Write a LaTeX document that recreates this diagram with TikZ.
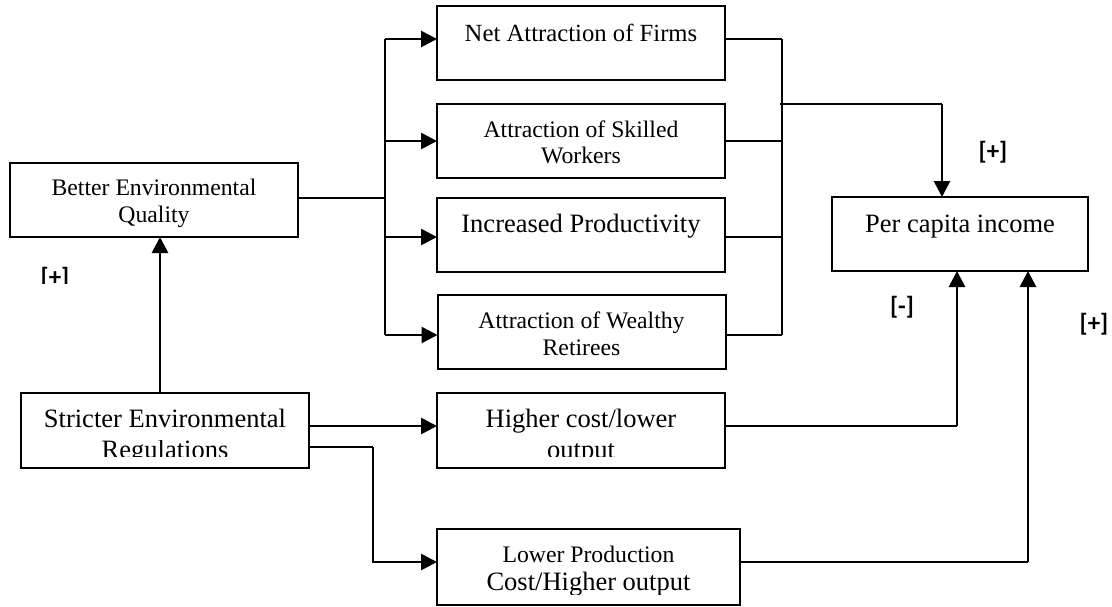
\documentclass[tikz,border=0pt]{standalone}
\usepackage{fontspec}
\setmainfont{Liberation Serif}
\newfontfamily\lblfont{Carlito}
\usetikzlibrary{arrows.meta}
\newcommand\fntS{\fontsize{23.7}{27}\selectfont}
\newcommand\fntN{\fontsize{24.7}{28}\selectfont}
\newcommand\fntL{\fontsize{26.5}{30}\selectfont}
\tikzset{
  box/.style={draw, line width=2pt, inner sep=0pt, outer sep=0pt,
              minimum width=288pt, minimum height=74pt},
  txt/.style={inner sep=0pt, anchor=base},
  lbl/.style={inner sep=0pt, font=\lblfont\bfseries\fontsize{25}{27}\selectfont},
  thinl/.style={line width=1.7pt},
  thickl/.style={line width=2.6pt},
  arr/.style={line width=2.8pt, -{Triangle[length=16pt,width=16pt]}},
}
\begin{document}
\begin{tikzpicture}[x=1pt,y=-1pt]
\useasboundingbox (0,0) rectangle (1112,606);

% boxes
\node[box] (bet) at (154,200) {};
\node[box] (net) at (581,43) {};
\node[box] (skl) at (581,141) {};
\node[box] (inc) at (581,235) {};
\node[box] (wlt) at (581.5,332) {};
\node[box, minimum height=75pt] (str) at (165,430.5) {};
\node[box, minimum height=75pt] (hic) at (581,430.5) {};
\node[box, minimum width=303pt, minimum height=76pt] (low) at (588.5,567) {};
\node[box, minimum width=256pt] (pci) at (960,234) {};

% box texts
\node[txt, font=\fntS] (betA) at (154,195) {Better Environmental};
\node[txt, font=\fntS] (betB) at (154,222) {Quality};
\node[txt, font=\fntN] (netA) at (581,41) {Net Attraction of Firms};
\node[txt, font=\fntS] (sklA) at (581,137) {Attraction of Skilled};
\node[txt, font=\fntS] (sklB) at (581,163) {Workers};
\node[txt, font=\fntL] (incA) at (581,232) {Increased Productivity};
\node[txt, font=\fntS] (wltA) at (581.5,328) {Attraction of Wealthy};
\node[txt, font=\fntS] (wltB) at (581.5,355) {Retirees};
\node[txt, font=\fntL] (pciA) at (960,232) {Per capita income};
\node[txt, font=\fntL] (strA) at (165,427) {Stricter Environmental};
\node[txt, font=\fntL] (hicA) at (581,427) {Higher cost/lower};
\node[txt, font=\fntS] (lowA) at (588.5,562) {Lower Production};
\begin{scope}
  \clip (22,440) rectangle (308,456.5);
  \node[txt, font=\fntL] (strB) at (165,458) {Regulations};
\end{scope}
\begin{scope}
  \clip (438,440) rectangle (724,456.5);
  \node[txt, font=\fntL] (hicB) at (581,458) {output};
\end{scope}
\begin{scope}
  \clip (438,570) rectangle (739,594);
  \node[txt, font=\fntL] (lowB) at (588.5,590) {Cost/Higher output};
\end{scope}

% sign labels
\begin{scope}
  \clip (30,255) rectangle (80,283);
  \node[lbl] (sgnA) at (55,278.5) {[+]};
\end{scope}
\node[lbl] (sgnB) at (993,152) {[+]};
\node[lbl] (sgnC) at (902,307) {[-]};
\node[lbl] (sgnD) at (1094,324) {[+]};

% left distribution bus
\coordinate (busT) at (385,39);
\coordinate (busS) at (385,141);
\coordinate (busI) at (385,237);
\coordinate (busB) at (385,335);
\coordinate (busJ) at (385,198);
\draw[thinl] (bet.east |- busJ) -- (busJ);
\draw[thickl] (busT) -- (busB);
\draw[arr] (busT) -- (busT -| net.west);
\draw[arr] (busS) -- (busS -| skl.west);
\draw[arr] (busI) -- (busI -| inc.west);
\draw[arr] (busB) -- (busB -| wlt.west);

% right collecting bus
\coordinate (rT) at (782,39);
\coordinate (rS) at (782,141);
\coordinate (rI) at (782,237);
\coordinate (rB) at (782,335);
\coordinate (rJ) at (780,104);
\coordinate (pJ) at (942,104);
\draw[thinl] (rT) -- (rB);
\draw[thinl] (net.east |- rT) -- (rT);
\draw[thinl] (skl.east |- rS) -- (rS);
\draw[thinl] (inc.east |- rI) -- (rI);
\draw[thinl] (wlt.east |- rB) -- (rB);
\draw[thinl] (rJ) -- (pJ);
\draw[arr] (pJ) -- (pJ |- pci.north);

% regulations to environmental quality
\coordinate (upX) at (160,0);
\draw[arr] (str.north -| upX) -- (bet.south -| upX);

% regulations to cost effects
\coordinate (sH) at (0,426);
\draw[arr] (str.east |- sH) -- (hic.west |- sH);
\coordinate (sL) at (373,447);
\coordinate (lJ) at (0,562);
\draw[thickl] (str.east |- sL) -- (sL);
\draw[arr] (sL) |- (low.west |- lJ);

% cost effects to income
\coordinate (hJ) at (957,426);
\draw[thinl] (hic.east |- hJ) -- (hJ);
\draw[arr] (hJ) -- (hJ |- pci.south);
\coordinate (lW) at (1028,562);
\draw[thinl] (low.east |- lW) -- (lW);
\draw[arr] (lW) -- (lW |- pci.south);
\end{tikzpicture}
\end{document}
